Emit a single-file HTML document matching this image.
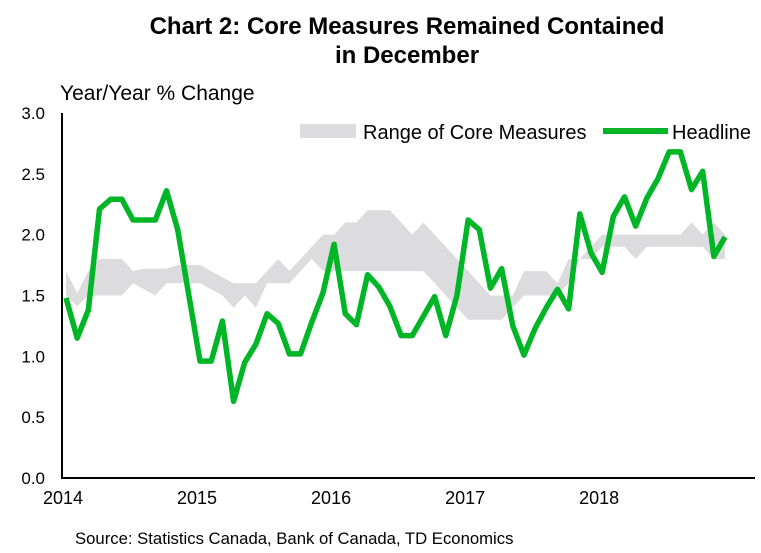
<!DOCTYPE html>
<html><head><meta charset="utf-8"><style>
body{margin:0;background:#fff;}
svg{display:block;font-family:"Liberation Sans",Arial,sans-serif;}
</style></head><body>
<svg id="chart" width="761" height="553">
<text x="407" y="34" font-size="24" font-weight="bold" text-anchor="middle">Chart 2: Core Measures Remained Contained</text>
<text x="407" y="63" font-size="24" font-weight="bold" text-anchor="middle">in December</text>
<text x="60" y="100" font-size="21">Year/Year % Change</text>
<g id="band"></g><g id="line"></g><g id="axes"></g>
<rect x="300" y="124" width="56" height="14" fill="#dcdcde"/>
<text x="363" y="139" font-size="20">Range of Core Measures</text>
<line x1="603" y1="131" x2="668" y2="131" stroke="#00b526" stroke-width="6"/>
<text x="672" y="139" font-size="20">Headline</text>
<text x="75" y="544" font-size="16.7">Source: Statistics Canada, Bank of Canada, TD Economics</text>
</svg>
<script>
const years=["2014","2015","2016","2017","2018"];
const yTicks=[0,0.5,1,1.5,2,2.5,3];
const headline=[1.48,1.15,1.38,2.21,2.29,2.29,2.12,2.12,2.12,2.36,2.04,1.5,
0.96,0.96,1.29,0.63,0.95,1.1,1.35,1.27,1.02,1.02,1.28,1.52,
1.92,1.35,1.26,1.67,1.57,1.41,1.17,1.17,1.33,1.49,1.17,1.5,
2.12,2.04,1.56,1.72,1.25,1.01,1.23,1.4,1.55,1.39,2.17,1.85,
1.69,2.15,2.31,2.07,2.3,2.46,2.68,2.68,2.37,2.52,1.82,1.98];
const coreHigh=[1.7,1.52,1.7,1.8,1.8,1.8,1.7,1.72,1.72,1.72,1.75,1.75,
1.75,1.7,1.65,1.6,1.6,1.6,1.7,1.8,1.7,1.8,1.9,2.0,
2.0,2.1,2.1,2.2,2.2,2.2,2.1,2.0,2.1,2.0,1.9,1.8,
1.7,1.6,1.5,1.5,1.5,1.7,1.7,1.7,1.6,1.8,1.8,1.9,
2.0,2.0,2.0,2.0,2.0,2.0,2.0,2.0,2.1,2.0,2.1,2.0];
const coreLow=[1.5,1.41,1.5,1.5,1.5,1.5,1.6,1.55,1.5,1.6,1.6,1.6,
1.6,1.55,1.5,1.4,1.5,1.4,1.6,1.6,1.6,1.7,1.8,1.7,
1.7,1.7,1.7,1.7,1.7,1.7,1.7,1.7,1.7,1.6,1.5,1.4,
1.3,1.3,1.3,1.3,1.4,1.5,1.5,1.5,1.5,1.6,1.8,1.8,
1.9,1.9,1.9,1.8,1.9,1.9,1.9,1.9,1.9,1.9,1.8,1.8];
const NS="http://www.w3.org/2000/svg";
const x=i=>66+i*11.17, y=v=>478-v*121.7;
function mk(tag,attrs,parent){const e=document.createElementNS(NS,tag);for(const k in attrs)e.setAttribute(k,attrs[k]);parent.appendChild(e);return e;}
const band=document.getElementById('band'),line=document.getElementById('line'),axes=document.getElementById('axes');
let pts=coreHigh.map((v,i)=>x(i)+','+y(v));
for(let i=coreLow.length-1;i>=0;i--)pts.push(x(i)+','+y(coreLow[i]));
const poly=mk('polygon',{points:pts.join(' '),fill:'#dcdcde'},band);


const pl=mk('polyline',{points:headline.map((v,i)=>x(i)+','+y(v)).join(' '),fill:'none',stroke:'#00b526','stroke-width':5.5,'stroke-linejoin':'round'},line);


const ya=mk('line',{x1:62,y1:113,x2:62,y2:479,stroke:'#000','stroke-width':2},axes);


const xa=mk('line',{x1:61,y1:478,x2:755,y2:478,stroke:'#000','stroke-width':2},axes);


yTicks.forEach(t=>{const tx=mk('text',{x:45,y:y(t)+6,'font-size':17,'text-anchor':'end'},axes);tx.textContent=t.toFixed(1);

});
years.forEach((yr,k)=>{const tx=mk('text',{x:x(k*12)-3,y:504,'font-size':18,'text-anchor':'middle'},axes);tx.textContent=yr;

});
</script>
</body></html>
